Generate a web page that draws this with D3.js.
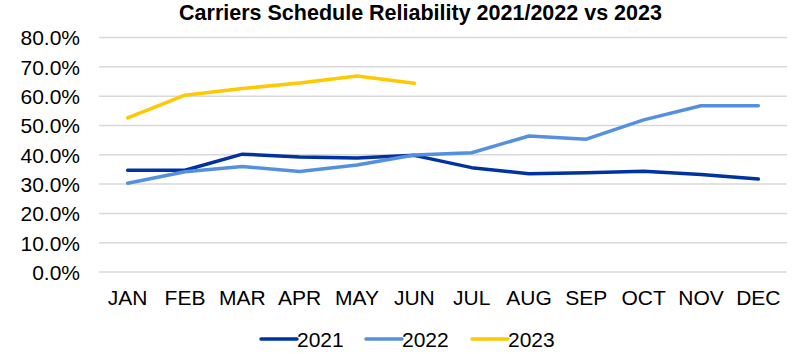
<!DOCTYPE html>
<html>
<head>
<meta charset="utf-8">
<script src="https://cdn.jsdelivr.net/npm/d3@7"></script>
<style>
  body { margin: 0; background: #fff; }
  text { font-family: "Liberation Sans", Arial, sans-serif; fill: #000; }
  .title { font-weight: bold; font-size: 21.5px; }
  .tick text { font-size: 21px; }
  .legend text { font-size: 21px; }
</style>
</head>
<body>
<div id="chart"></div>
<script>
const width = 793;
const height = 354;

const months = ["JAN","FEB","MAR","APR","MAY","JUN","JUL","AUG","SEP","OCT","NOV","DEC"];
const yTicks = [0, 0.1, 0.2, 0.3, 0.4, 0.5, 0.6, 0.7, 0.8];

const values2021 = [34.7, 34.7, 40.2, 39.2, 38.9, 39.8, 35.6, 33.5, 33.9, 34.4, 33.3, 31.7];
const values2022 = [30.3, 34.2, 36.0, 34.3, 36.5, 39.9, 40.7, 46.4, 45.3, 51.9, 56.7, 56.7];
const values2023 = [52.6, 60.3, 62.6, 64.5, 66.9, 64.4];

const series = [
  { name: "2021", color: "#0033a0", values: values2021 },
  { name: "2022", color: "#5590e0", values: values2022 },
  { name: "2023", color: "#ffc800", values: values2023 }
];

const margin = { top: 37.5, right: 6, bottom: 82, left: 99 };

const svg = d3.select("#chart").append("svg")
  .attr("width", width)
  .attr("height", height);

svg.append("text")
  .attr("class", "title")
  .attr("x", 420.5)
  .attr("y", 20)
  .attr("text-anchor", "middle")
  .text("Carriers Schedule Reliability 2021/2022 vs 2023");

const x = d3.scaleBand()
  .domain(months)
  .range([margin.left, width - margin.right]);

const y = d3.scaleLinear()
  .domain([0, 0.8])
  .range([height - margin.bottom, margin.top]);

// gridlines
svg.append("g")
  .selectAll("line")
  .data(yTicks)
  .enter()
  .append("line")
  .attr("x1", margin.left)
  .attr("x2", width - margin.right)
  .attr("y1", d => y(d))
  .attr("y2", d => y(d))
  .attr("stroke", "#d9d9d9")
  .attr("stroke-width", 1.5);

const yAxis = d3.axisLeft(y)
  .tickValues(yTicks)
  .tickFormat(d3.format(".1%"))
  .tickSize(0)
  .tickPadding(19);

svg.append("g")
  .attr("transform", `translate(${margin.left},0)`)
  .call(yAxis)
  .call(g => g.select(".domain").remove())
  .selectAll("text")
  .attr("dy", "0.35em");

const xAxis = d3.axisBottom(x)
  .tickSize(0)
  .tickPadding(18);

svg.append("g")
  .attr("transform", `translate(0,${y(0)})`)
  .call(xAxis)
  .call(g => g.select(".domain").remove());

const line = d3.line()
  .x((d, i) => x(months[i]) + x.bandwidth() / 2)
  .y(d => y(d / 100));

svg.append("g")
  .selectAll("path")
  .data(series)
  .enter()
  .append("path")
  .attr("d", d => line(d.values))
  .attr("fill", "none")
  .attr("stroke", d => d.color)
  .attr("stroke-width", 3.5)
  .attr("stroke-linejoin", "round")
  .attr("stroke-linecap", "round");

// legend
const legendX = [261, 366, 472];
const legend = svg.append("g")
  .attr("class", "legend")
  .selectAll("g")
  .data(series)
  .enter()
  .append("g")
  .attr("transform", (d, i) => `translate(${legendX[i]},339)`);

legend.append("line")
  .attr("x1", 0)
  .attr("x2", 36)
  .attr("stroke", d => d.color)
  .attr("stroke-width", 3.5)
  .attr("stroke-linecap", "round");

legend.append("text")
  .attr("x", 36)
  .attr("dy", "0.36em")
  .text(d => d.name);
</script>
</body>
</html>
